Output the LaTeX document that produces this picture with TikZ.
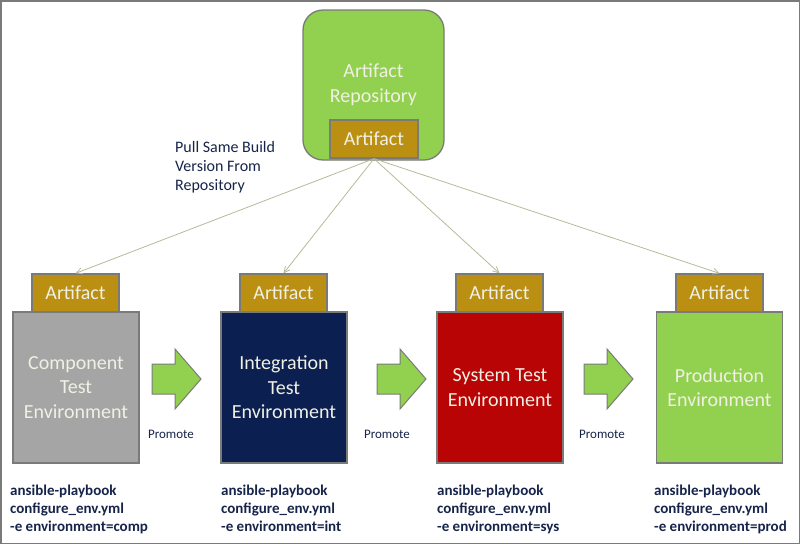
\documentclass[tikz,border=0pt]{standalone}
\usepackage{fontspec}
\setmainfont{Carlito}
\usetikzlibrary{arrows.meta}
\definecolor{repogreen}{HTML}{92D050}
\definecolor{gold}{HTML}{BA8F12}
\definecolor{compgray}{HTML}{A5A5A5}
\definecolor{intnavy}{HTML}{0B2050}
\definecolor{sysred}{HTML}{B80404}
\definecolor{edgegray}{HTML}{7A7A78}
\definecolor{lighttext}{HTML}{F0F0E4}
\definecolor{navytext}{HTML}{17244A}
\definecolor{pullline}{HTML}{B8B89A}
\tikzset{
  envbox/.style={draw=edgegray, line width=1.3pt, minimum width=126pt, minimum height=151pt,
    inner sep=0pt, text=lighttext, align=center, font=\fontsize{20}{24.5}\selectfont},
  artbox/.style={draw=edgegray, line width=1.3pt, fill=gold, minimum width=87pt, minimum height=38pt,
    inner sep=0pt, text=lighttext, font=\fontsize{20}{24}\selectfont},
  cmdtext/.style={anchor=north west, inner sep=0pt, align=left, text=navytext,
    font=\fontsize{15}{18}\selectfont\bfseries},
  promotetext/.style={inner sep=0pt, text=navytext, font=\fontsize{13}{15}\selectfont},
  promotearrow/.style={draw=edgegray, line width=1pt, fill=repogreen},
  pull/.style={draw=pullline, line width=0.8pt, -{Straight Barb[length=6pt,width=6pt]}}
}
\begin{document}
\begin{tikzpicture}[x=1pt,y=-1pt]
\useasboundingbox (0,0) rectangle (800,544);
\draw[edgegray, line width=1.5pt] (0.75,0.75) rectangle (799.25,543.25);

% repository
\node[draw=edgegray, line width=1.3pt, fill=repogreen, rounded corners=20pt,
  minimum width=141pt, minimum height=150pt, inner sep=0pt, text=lighttext, align=center,
  font=\fontsize{20}{25}\selectfont] (repo) at (373.5,85) {Artifact\\Repository};
\node[artbox, minimum width=88pt] (repoart) at (374,139) {Artifact};

% pull text
\node[anchor=north west, inner sep=0pt, align=left, text=navytext,
  font=\fontsize{16}{19}\selectfont] (pulltext) at (175,141) {Pull Same Build\\Version From\\Repository};

% environments
\node[envbox, fill=compgray] (comp) at (76,387.5) {Component\\Test\\Environment};
\node[envbox, fill=intnavy] (int) at (284,387.5) {Integration\\Test\\Environment};
\node[envbox, fill=sysred] (sys) at (500,387.5) {System Test\\Environment};
\node[envbox, fill=repogreen] (prod) at (719.5,387.5) {Production\\Environment};

% artifacts
\node[artbox] (a1) at (75.5,293) {Artifact};
\node[artbox] (a2) at (283.5,293) {Artifact};
\node[artbox] (a3) at (499.5,293) {Artifact};
\node[artbox] (a4) at (719.5,293) {Artifact};

% pull lines
\draw[pull] (repoart.south) -- (a1.north);
\draw[pull] (repoart.south) -- (a2.north);
\draw[pull] (repoart.south) -- (a3.north);
\draw[pull] (repoart.south) -- (a4.north);

% promote arrows
\foreach \dx/\nm in {0/p1,225/p2,432/p3}{
  \draw[promotearrow, shift={(\dx,0)}] (152,364) -- (175,364) -- (175,349) -- (201,379)
    -- (175,409) -- (175,394) -- (152,394) -- cycle;
}
\node[promotetext] (t1) at (171,434) {Promote};
\node[promotetext] (t2) at (387,434) {Promote};
\node[promotetext] (t3) at (602,434) {Promote};

% commands
\node[cmdtext] (c1) at (10,485) {ansible-playbook\\configure\_env.yml\\-e environment=comp};
\node[cmdtext] (c2) at (221,485) {ansible-playbook\\configure\_env.yml\\-e environment=int};
\node[cmdtext] (c3) at (437,485) {ansible-playbook\\configure\_env.yml\\-e environment=sys};
\node[cmdtext] (c4) at (654,485) {ansible-playbook\\configure\_env.yml\\-e environment=prod};
\end{tikzpicture}
\end{document}
